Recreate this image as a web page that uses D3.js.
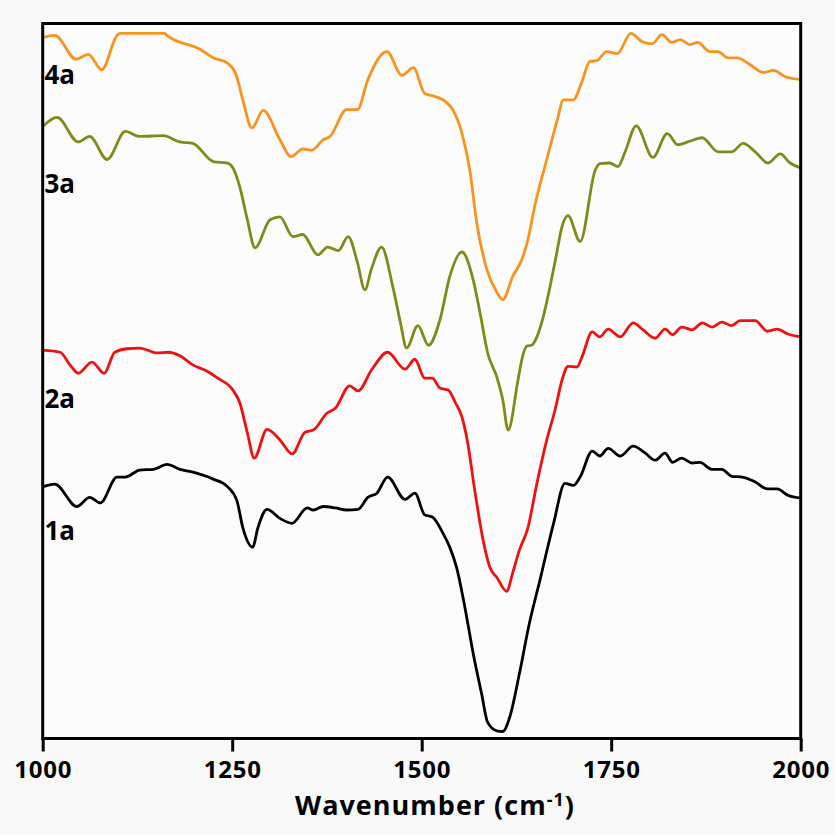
<!DOCTYPE html>
<html>
<head>
<meta charset="utf-8">
<script src="https://cdn.jsdelivr.net/npm/d3@7"></script>
<style>
  html, body { margin: 0; padding: 0; background: #f9f9f9; }
  svg { display: block; }
  text { font-family: "Open Sans", Lato, sans-serif; font-weight: bold; fill: #000; }
</style>
</head>
<body>
<svg id="chart" width="835" height="835"></svg>
<script>
// FTIR spectra, 1000–2000 cm-1, stacked with vertical offsets (arbitrary units)
const wavenumbers1a = [1000,1016,1045,1062,1076,1098,1109,1128,1146,1164,1181,1194,1225,1244,1256,1264,1277,1284,1296,1313,1329,1349,1357,1370,1386,1401,1416,1429,1441,1455,1478,1491,1504,1514,1528,1537,1546,1557,1568,1579,1587,1599,1607,1616,1629,1642,1656,1674,1689,1700,1709,1725,1735,1746,1762,1779,1795,1808,1821,1831,1843,1857,1867,1883,1896,1909,1923,1940,1956,1969,1983,2000];
const values1a = [35.9,36.3,33.1,34.4,33.6,37.3,37.3,38.3,38.4,39.1,38.4,38.1,37.0,35.9,34.0,30.1,27.3,30.1,32.7,31.4,30.7,32.9,32.6,33.1,32.9,32.6,32.7,34.4,35.0,37.3,34.1,35.0,31.9,31.6,29.3,27.3,24.4,18.7,12.1,6.4,2.3,1.1,1.0,3.0,9.3,16.4,22.6,30.7,36.4,36.1,37.3,41.0,40.3,41.4,40.3,41.7,40.7,39.7,40.7,39.4,40.0,39.3,39.4,38.4,38.4,37.4,37.3,36.6,35.6,35.6,34.7,34.3];

const wavenumbers2a = [1000,1023,1036,1047,1065,1081,1095,1111,1128,1151,1165,1181,1198,1217,1231,1251,1260,1270,1279,1296,1313,1329,1346,1357,1375,1386,1405,1416,1434,1455,1478,1491,1504,1514,1524,1535,1544,1553,1560,1570,1581,1590,1599,1612,1620,1629,1640,1652,1665,1676,1685,1693,1705,1711,1725,1735,1746,1762,1779,1792,1808,1821,1831,1843,1857,1870,1883,1896,1909,1920,1940,1956,1969,1983,2000];
const values2a = [55.4,55.1,53.3,52.1,53.7,52.1,55.1,55.6,55.7,55.0,55.1,54.6,53.3,52.4,51.4,49.7,47.9,43.6,40.0,44.1,42.6,40.6,43.7,44.0,46.4,47.1,50.3,49.6,52.6,55.1,52.7,54.1,51.4,51.4,50.0,49.7,48.0,45.9,42.6,35.4,28.3,24.4,23.0,21.0,23.6,26.9,30.0,36.4,42.6,46.9,51.1,53.1,53.0,54.3,58.0,57.3,58.4,57.3,59.3,58.3,57.1,58.4,57.6,58.7,58.3,59.3,58.7,59.4,58.9,59.6,59.6,58.1,58.4,57.7,57.3];

const wavenumbers3a = [1000,1019,1047,1062,1085,1109,1128,1159,1181,1198,1225,1243,1251,1260,1270,1280,1300,1313,1330,1343,1363,1376,1390,1403,1415,1425,1434,1447,1462,1472,1480,1495,1509,1524,1537,1553,1568,1577,1587,1599,1607,1614,1627,1632,1639,1645,1652,1660,1669,1677,1685,1693,1709,1729,1735,1748,1759,1768,1783,1805,1824,1838,1851,1870,1891,1909,1924,1940,1957,1973,1986,2000];
const values3a = [87.3,88.6,85.1,85.9,82.6,86.6,85.9,86.0,85.1,84.9,82.3,82.1,81.4,78.7,74.0,70.0,74.0,74.4,71.6,71.9,69.0,70.1,69.6,71.6,68.0,64.0,67.1,70.1,64.4,59.3,55.7,58.9,56.1,59.7,65.9,69.4,65.4,60.7,55.0,51.6,48.3,44.0,51.1,54.0,56.0,56.1,57.3,60.0,64.3,68.6,73.0,74.6,70.9,81.1,82.0,82.1,81.6,83.6,87.4,82.9,86.3,84.7,85.1,85.7,83.7,83.7,84.9,83.7,82.1,83.4,82.1,81.4];

const wavenumbers4a = [1000,1016,1044,1060,1078,1098,1102,1161,1164,1208,1225,1243,1256,1264,1276,1291,1313,1328,1343,1355,1370,1379,1401,1415,1429,1454,1474,1489,1504,1514,1531,1541,1553,1564,1572,1586,1599,1607,1620,1632,1640,1649,1665,1679,1687,1700,1711,1722,1731,1744,1758,1776,1791,1804,1817,1830,1841,1854,1864,1880,1891,1904,1916,1931,1951,1964,1980,2000];
const values4a = [100.0,100.3,96.9,97.6,95.4,100.3,100.6,100.6,100.3,98.3,97.1,96.4,94.4,91.1,87.1,89.6,85.4,83.0,84.1,83.9,85.4,85.9,89.7,89.7,94.0,98.0,94.6,95.7,92.0,91.7,90.9,89.7,86.4,80.7,74.0,66.9,63.7,62.6,65.9,68.3,71.1,75.9,82.6,88.3,91.1,91.1,93.6,96.6,96.7,98.0,97.7,100.6,99.4,99.1,100.4,99.3,99.7,99.0,99.3,98.0,98.0,97.1,97.1,96.3,95.0,95.3,94.4,94.0];

const seriesNames = ["1a", "2a", "3a", "4a"];
const seriesColors = ["#000000", "#ee1111", "#7f8a1a", "#f7931e"];
const seriesWavenumbers = [wavenumbers1a, wavenumbers2a, wavenumbers3a, wavenumbers4a];
const seriesValues = [values1a, values2a, values3a, values4a];
// Label anchor wavenumber and value for each series name
const labelWavenumber = [1005, 1005, 1005, 1005];
const labelValue = [28.3, 47.1, 77.8, 93.3];

const xTicks = [1000, 1250, 1500, 1750, 2000];
const xTitle = "Wavenumber (cm";
const xTitleSup = "-1";

const svg = d3.select("#chart");
const margin = { left: 42.7, right: 34.3, top: 23.5, bottom: 96.5 };
const W = 835, H = 835;

const x = d3.scaleLinear().domain([1000, 2000]).range([margin.left, W - margin.right]);
const y = d3.scaleLinear().domain([0, 102]).range([H - margin.bottom, margin.top]);

// plot area
svg.append("rect")
  .attr("x", x(1000)).attr("y", y(102))
  .attr("width", x(2000) - x(1000)).attr("height", y(0) - y(102))
  .attr("fill", "#fcfcfc");

// spectra
const line = d3.line()
  .x(d => x(d[0]))
  .y(d => y(d[1]))
  .curve(d3.curveMonotoneX);

seriesNames.forEach((name, i) => {
  const pts = seriesWavenumbers[i].map((w, k) => [w, seriesValues[i][k]]);
  svg.append("path")
    .datum(pts)
    .attr("fill", "none")
    .attr("stroke", seriesColors[i])
    .attr("stroke-width", 2.8)
    .attr("stroke-linejoin", "round")
    .attr("d", line);
});

// frame
svg.append("rect")
  .attr("x", x(1000)).attr("y", y(102))
  .attr("width", x(2000) - x(1000)).attr("height", y(0) - y(102))
  .attr("fill", "none").attr("stroke", "#000").attr("stroke-width", 3);

// bottom axis
const xAxis = d3.axisBottom(x).tickValues(xTicks).tickFormat(d3.format("d")).tickSize(13).tickPadding(9);
const gx = svg.append("g").attr("transform", `translate(0,${y(0)})`).call(xAxis);
gx.select(".domain").remove();
gx.selectAll(".tick line").attr("stroke", "#000").attr("stroke-width", 3);
gx.selectAll(".tick text")
  .attr("font-family", "'Open Sans', Lato, sans-serif")
  .attr("font-weight", "bold")
  .attr("font-size", 24)
  .attr("letter-spacing", 0.8)
  .attr("fill", "#000");

// axis title
const title = svg.append("text")
  .attr("x", 435)
  .attr("y", 815)
  .attr("text-anchor", "middle")
  .attr("font-size", 27)
  .attr("letter-spacing", 1);
title.append("tspan").text(xTitle);
title.append("tspan").attr("font-size", 18).attr("dy", -9).text(xTitleSup);
title.append("tspan").attr("dy", 9).text(")");

// series labels
seriesNames.forEach((name, i) => {
  svg.append("text")
    .attr("x", x(labelWavenumber[i]) - 2)
    .attr("y", y(labelValue[i]))
    .attr("font-size", 26)
    .text(name);
});
</script>
</body>
</html>
